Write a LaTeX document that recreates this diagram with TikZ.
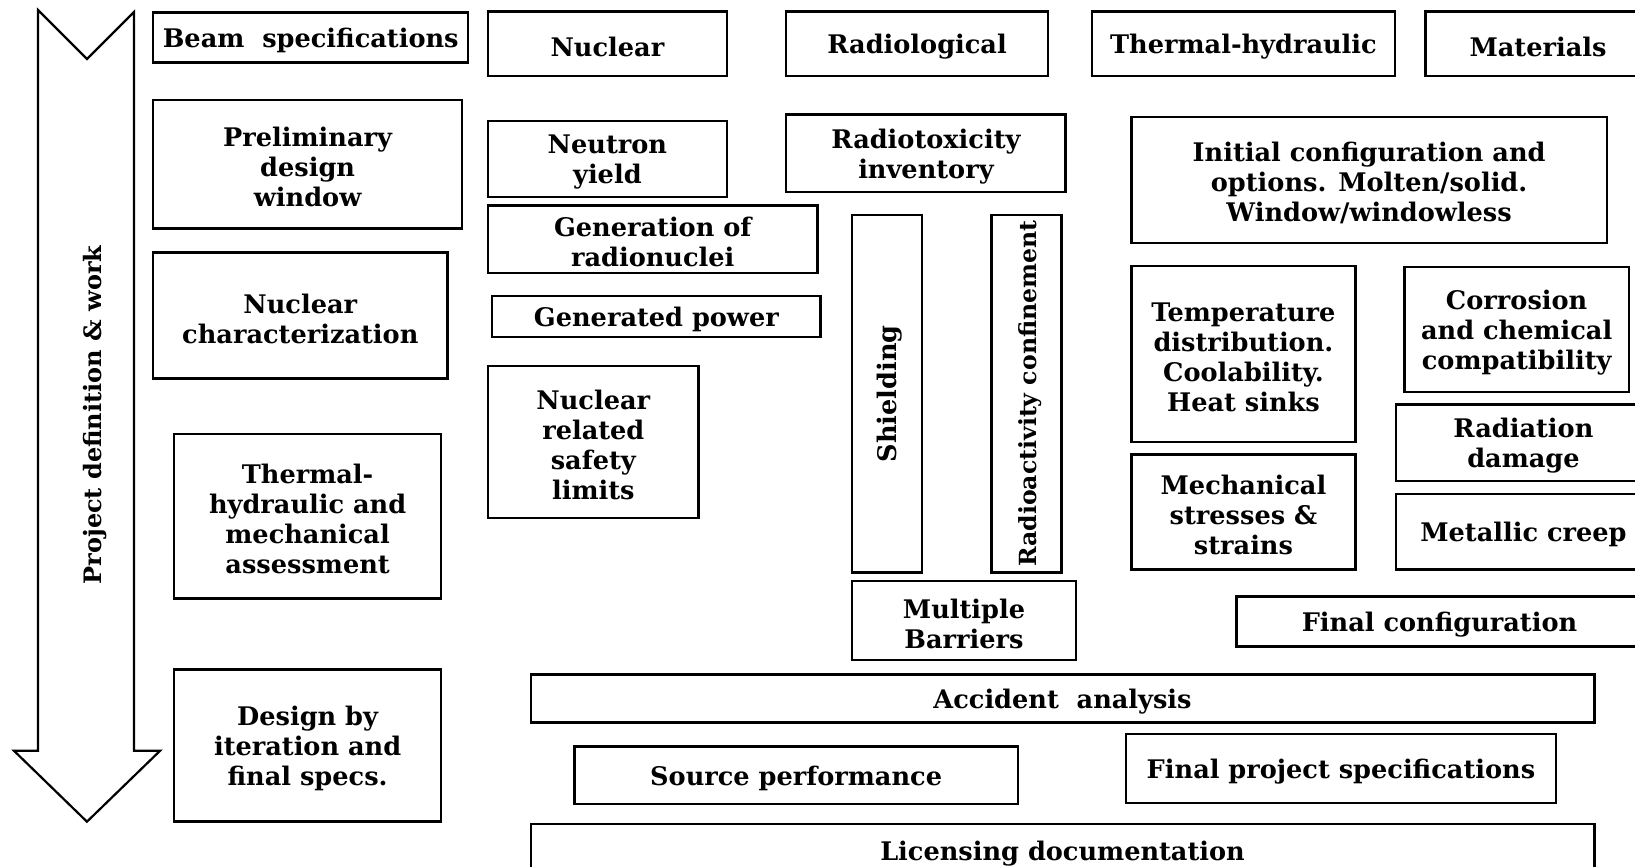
\documentclass[tikz,border=0pt]{standalone}
\usepackage{fontspec}
\setmainfont{DejaVu Serif}
\usetikzlibrary{calc}
\tikzset{
	box/.style={line width=1.2pt},
	txt/.style={align=center, inner sep=0pt, font=\fontsize{12.8}{15}\selectfont\bfseries}
}
\newcommand{\blk}[6] % name, x1, y1, x2, y2, text
{
	% frame
	\draw[box] (#2,#3) rectangle (#4,#5);
	% label in the middle (a bit low, like the original)
	\node[txt] (#1) at ({(#2+#4)/2},{(#3+#5)/2+3}) {#6};
}
\newcommand{\vblk}[6] % name, x1, y1, x2, y2, text (turned)
{
	\draw[box] (#2,#3) rectangle (#4,#5);
	\node[txt, rotate=90] (#1) at ({(#2+#4)/2+3},{(#3+#5)/2}) {#6};
}

\begin{document}
\begin{tikzpicture}[x=0.52135pt, y=-0.52135pt]
	% sheet 1568 x 831 px
	\useasboundingbox (0,0) rectangle (1568,831);
	\clip (0,0) rectangle (1568,831);
	
	% big arrow down the left side
	\draw[box, line width=1.1pt] (36.5,9.6) -- (83.4,56.6) -- (128.5,11.5) -- (128.5,720)
		-- (153.5,720) -- (83.4,788) -- (13.4,720) -- (36.5,720) -- cycle;
	\node[txt, rotate=90, font=\fontsize{12}{15}\selectfont\bfseries] (work) at (91,398) {Project definition \& work};
	
	% left column
	\blk{beam}{147}{12}{449}{60}{Beam\ \ specifications};
	\blk{prelim}{147}{96}{443}{219}{Preliminary\\design\\window};
	\blk{nchar}{147}{242}{429}{363}{Nuclear\\characterization};
	\blk{thmech}{167}{416}{423}{574}{Thermal-\\hydraulic and\\mechanical\\assessment};
	\blk{iter}{167}{642}{423}{788}{Design by\\iteration and\\final specs.};
	
	% headers
	\blk{nuc}{468}{11}{697}{73}{Nuclear};
	\blk{radio}{754}{11}{1005}{73}{Radiological};
	\blk{thyd}{1047}{11}{1338}{73}{Thermal-hydraulic};
	\blk{mat}{1367}{11}{1583}{73}{Materials};
	
	% nuclear
	\blk{yield}{468}{116}{697}{189}{Neutron\\yield};
	\blk{genrad}{468}{197}{784}{262}{Generation of\\radionuclei};
	\blk{power}{472}{284}{787}{323}{Generated power};
	\blk{limits}{468}{351}{670}{497}{Nuclear\\related\\safety\\limits};
	
	% radiological
	\blk{toxic}{754}{110}{1022}{184}{Radiotoxicity\\inventory};
	\vblk{shield}{817}{206}{884}{549}{Shielding};
	\vblk{confine}{951}{206}{1018}{549}{\fontsize{11.8}{15}\selectfont Radioactivity confinement};
	\blk{barrier}{817}{557}{1032}{633}{Multiple\\Barriers};
	
	% thermal-hydraulic and materials
	\blk{init}{1085}{112}{1541}{233}{Initial configuration and\\options. Molten/solid.\\Window/windowless};
	\blk{temp}{1085}{255}{1300}{424}{Temperature\\distribution.\\Coolability.\\Heat sinks};
	\blk{mech}{1085}{436}{1300}{546}{Mechanical\\stresses \&\\strains};
	\blk{corr}{1347}{256}{1562}{376}{Corrosion\\and chemical\\compatibility};
	\blk{raddam}{1339}{388}{1583}{461}{Radiation\\damage};
	\blk{creep}{1339}{474}{1583}{546}{Metallic creep};
	\blk{final}{1186}{572}{1575}{620}{Final configuration};
	
	% bottom rows
	\blk{accid}{509}{647}{1529}{693}{Accident\ \ analysis};
	\blk{perf}{551}{716}{976}{771}{Source performance};
	\blk{fspec}{1080}{704}{1492}{770}{Final project specifications};
	\blk{licen}{509}{790}{1529}{841}{Licensing documentation};
\end{tikzpicture}
\end{document}
